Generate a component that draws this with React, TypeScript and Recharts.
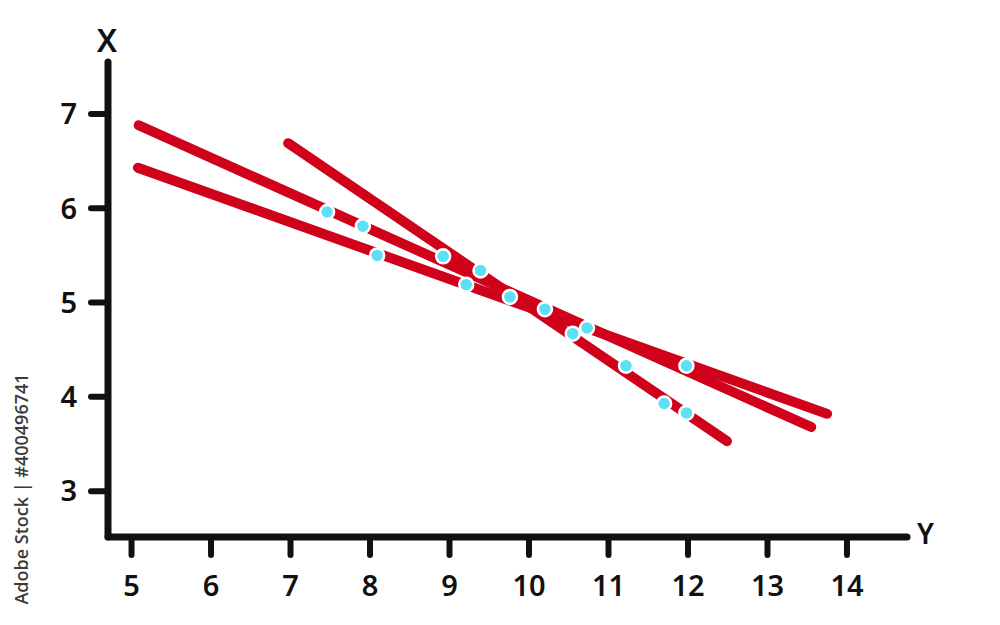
import React from 'react';
import { ComposedChart, Line, Scatter, XAxis, YAxis } from 'recharts';

// three fitted lines (start / end points)
const lineA = [{ x: 5.09, y: 6.88 }, { x: 13.55, y: 3.68 }];
const lineB = [{ x: 5.08, y: 6.43 }, { x: 13.75, y: 3.82 }];
const lineC = [{ x: 6.97, y: 6.69 }, { x: 12.49, y: 3.53 }];

// observed points
const points = [
  { x: 7.46, y: 5.96 },
  { x: 7.91, y: 5.81 },
  { x: 8.09, y: 5.5 },
  { x: 8.92, y: 5.49 },
  { x: 9.39, y: 5.34 },
  { x: 9.21, y: 5.19 },
  { x: 9.76, y: 5.06 },
  { x: 10.2, y: 4.93 },
  { x: 10.55, y: 4.67 },
  { x: 10.73, y: 4.73 },
  { x: 11.22, y: 4.33 },
  { x: 11.98, y: 4.33 },
  { x: 11.7, y: 3.93 },
  { x: 11.98, y: 3.83 },
];

const xTicks = [5, 6, 7, 8, 9, 10, 11, 12, 13, 14];
const yTicks = [3, 4, 5, 6, 7];

const INK = '#111';
const RED = '#d0021b';
const CYAN = '#5fdff5';
const FONT = "'Noto Sans', sans-serif";

const axisLine = { stroke: INK, strokeWidth: 7, strokeLinecap: 'round' as const };
const tickLine = { stroke: INK, strokeWidth: 6, strokeLinecap: 'round' as const };
const tickStyle = { fill: INK, fontSize: 29, fontFamily: FONT, fontWeight: 600 };

const Dot = (props: any) => {
  const { cx, cy } = props;
  return <circle cx={cx} cy={cy} r={7} fill={CYAN} stroke="#fff" strokeWidth={2.5} />;
};

const App: React.FC = () => {
  return (
    <div style={{ position: 'absolute', left: 0, top: 0, width: 1000, height: 625, background: '#fff' }}>
      <ComposedChart width={1000} height={625} margin={{ top: 62, right: 93, bottom: 28, left: 48 }}>
        <XAxis
          type="number"
          dataKey="x"
          domain={[4.704, 14.755]}
          ticks={xTicks}
          interval={0}
          allowDataOverflow
          height={60}
          axisLine={axisLine}
          tickLine={tickLine}
          tickSize={18}
          tickMargin={20}
          tick={tickStyle}
          label={{
            content: ({ viewBox }: any) => (
              <text x={viewBox.x + viewBox.width + 10} y={viewBox.y + 7} fill={INK} fontSize={28} fontFamily={FONT} fontWeight={600}>
                Y
              </text>
            ),
          }}
        />
        <YAxis
          type="number"
          dataKey="y"
          domain={[2.514, 7.551]}
          ticks={yTicks}
          interval={0}
          allowDataOverflow
          width={60}
          axisLine={axisLine}
          tickLine={tickLine}
          tickSize={17}
          tickMargin={14}
          tick={tickStyle}
          label={{
            content: ({ viewBox }: any) => (
              <text x={viewBox.x + viewBox.width - 1} y={viewBox.y - 10} textAnchor="middle" fill={INK} fontSize={32} fontFamily={FONT} fontWeight={600}>
                X
              </text>
            ),
          }}
        />
        <Line data={lineA} dataKey="y" stroke={RED} strokeWidth={10} strokeLinecap="round" dot={false} activeDot={false} isAnimationActive={false} />
        <Line data={lineB} dataKey="y" stroke={RED} strokeWidth={10} strokeLinecap="round" dot={false} activeDot={false} isAnimationActive={false} />
        <Line data={lineC} dataKey="y" stroke={RED} strokeWidth={10} strokeLinecap="round" dot={false} activeDot={false} isAnimationActive={false} />
        <Scatter data={points} dataKey="y" shape={<Dot />} isAnimationActive={false} />
      </ComposedChart>
      <div
        style={{
          position: 'absolute',
          left: 21,
          top: 489,
          transform: 'translate(-50%, -50%) rotate(-90deg)',
          whiteSpace: 'nowrap',
          fontFamily: "'Open Sans', sans-serif",
          fontWeight: 600,
          fontSize: 18,
          color: '#3a3a3a',
        }}
      >
        Adobe Stock | #400496741
      </div>
    </div>
  );
};

export default App;
